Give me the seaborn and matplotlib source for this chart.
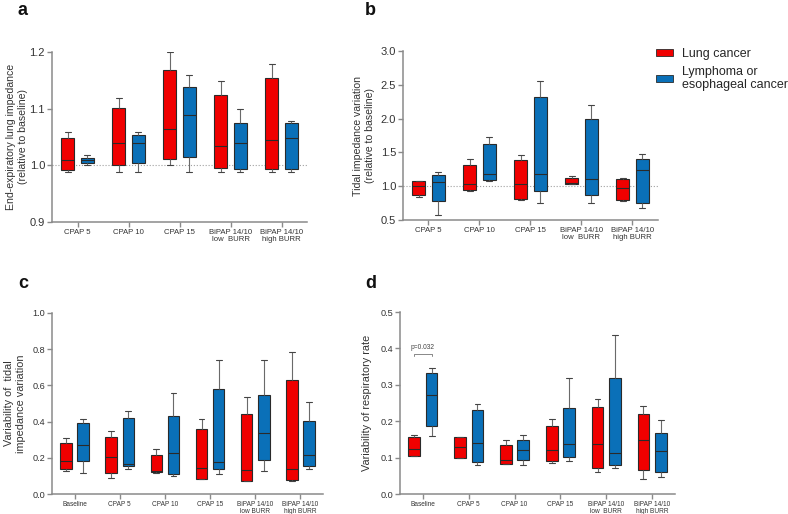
import numpy as np
import pandas as pd
import matplotlib
matplotlib.use("Agg")
import matplotlib.pyplot as plt
from matplotlib.patches import Patch
import seaborn as sns

# ---------------- data (min, q1, median, q3, max) ----------------
groups = ["Lung cancer", "Lymphoma or\nesophageal cancer"]
colors = ["#f00000", "#0a70b8"]

cond_ab = ["CPAP 5", "CPAP 10", "CPAP 15", "BiPAP 14/10\nlow  BURR", "BiPAP 14/10\nhigh BURR"]
cond_c = ["Baseline", "CPAP 5", "CPAP 10", "CPAP 15", "BiPAP 14/10\nlow BURR", "BiPAP 14/10\nhigh BURR"]
cond_d = ["Baseline", "CPAP 5", "CPAP 10", "CPAP 15", "BiPAP 14/10\nlow  BURR", "BiPAP 14/10\nhigh BURR"]

a_lung = [[0.989, 0.992, 1.010, 1.049, 1.059],
          [0.989, 1.000, 1.039, 1.102, 1.119],
          [1.000, 1.012, 1.064, 1.169, 1.200],
          [0.989, 0.996, 1.035, 1.124, 1.149],
          [0.989, 0.994, 1.044, 1.154, 1.179]]
a_lymph = [[1.000, 1.005, 1.010, 1.0135, 1.019],
           [0.989, 1.005, 1.039, 1.054, 1.059],
           [0.989, 1.014, 1.089, 1.139, 1.159],
           [0.989, 0.994, 1.039, 1.074, 1.100],
           [0.989, 0.994, 1.049, 1.074, 1.078]]

b_lung = [[0.842, 0.872, 1.000, 1.070, 1.074],
          [0.936, 0.951, 1.034, 1.320, 1.409],
          [0.793, 0.808, 1.034, 1.389, 1.463],
          [1.034, 1.036, 1.044, 1.128, 1.148],
          [0.788, 0.798, 0.966, 1.108, 1.123]]
b_lymph = [[0.576, 0.778, 1.069, 1.167, 1.207],
           [1.084, 1.086, 1.182, 1.631, 1.724],
           [0.754, 0.926, 1.182, 2.320, 2.561],
           [0.754, 0.867, 1.103, 1.995, 2.200],
           [0.680, 0.754, 1.241, 1.409, 1.478]]

c_lung = [[0.129, 0.137, 0.185, 0.281, 0.309],
          [0.089, 0.116, 0.207, 0.314, 0.348],
          [0.116, 0.120, 0.126, 0.216, 0.248],
          [0.081, 0.083, 0.144, 0.359, 0.416],
          [0.070, 0.072, 0.135, 0.444, 0.538],
          [0.070, 0.078, 0.137, 0.632, 0.787]]
c_lymph = [[0.118, 0.183, 0.268, 0.394, 0.416],
           [0.139, 0.152, 0.166, 0.421, 0.458],
           [0.100, 0.113, 0.229, 0.433, 0.558],
           [0.109, 0.137, 0.179, 0.582, 0.738],
           [0.129, 0.189, 0.338, 0.549, 0.738],
           [0.139, 0.155, 0.216, 0.403, 0.506]]

d_lung = [[0.104, 0.105, 0.124, 0.156, 0.163],
          [0.099, 0.100, 0.128, 0.156, 0.157],
          [0.082, 0.083, 0.093, 0.134, 0.147],
          [0.084, 0.091, 0.121, 0.186, 0.205],
          [0.060, 0.071, 0.137, 0.240, 0.262],
          [0.042, 0.066, 0.147, 0.220, 0.241]]
d_lymph = [[0.160, 0.187, 0.271, 0.332, 0.345],
           [0.081, 0.087, 0.140, 0.231, 0.248],
           [0.081, 0.093, 0.121, 0.147, 0.161],
           [0.091, 0.102, 0.138, 0.237, 0.318],
           [0.071, 0.081, 0.114, 0.320, 0.437],
           [0.048, 0.060, 0.118, 0.167, 0.202]]

p_text = "p=0.032"
p_y = 0.384

# ---------------- style ----------------
sns.set_theme(style="ticks")
plt.rcParams["font.family"] = ["Liberation Sans", "DejaVu Sans"]

AX_COL = "#8a8a8a"
EDGE = "#2a2a2a"
WHISK = "#6a6a6a"

fig = plt.figure(figsize=(7.88, 5.14), dpi=100)
W, H = 788, 514


def px_axes(l, t, r, b):
    return fig.add_axes([l / W, 1 - b / H, (r - l) / W, (b - t) / H])


def make_df(conds, lung, lymph):
    rows = []
    for ci, c in enumerate(conds):
        for g, stats in zip(groups, (lung, lymph)):
            for v in stats[ci]:
                rows.append({"cond": c, "group": g, "val": v})
    return pd.DataFrame(rows)


def draw(ax, conds, lung, lymph, ylim, yticks, ylabel, labx, ytick_fs, xtick_fs, ylab_fs):
    df = make_df(conds, lung, lymph)
    sns.boxplot(data=df, x="cond", y="val", hue="group", order=conds, hue_order=groups,
                palette=colors, whis=(0, 100), width=0.76, gap=0.33, fliersize=0,
                linecolor=EDGE, linewidth=0.8, legend=False, ax=ax, saturation=1,
                whiskerprops={"color": WHISK, "linewidth": 0.8},
                capprops={"color": "#444444", "linewidth": 0.8},
                medianprops={"color": EDGE, "linewidth": 0.8})
    ax.set_ylim(*ylim)
    ax.set_yticks(yticks)
    ax.set_yticklabels([f"{t:.1f}" for t in yticks], fontsize=ytick_fs, color="#333333")
    ax.set_xticks(range(len(conds)))
    ax.set_xticklabels(conds, fontsize=xtick_fs, color="#333333", linespacing=1.1)
    ax.set_xlim(-0.5, len(conds) - 0.5)
    ax.set_xlabel("")
    ax.set_ylabel(ylabel, fontsize=ylab_fs, color="#333333", linespacing=1.2)
    ax.yaxis.set_label_coords(labx, 0.5)
    for s in ("top", "right"):
        ax.spines[s].set_visible(False)
    for s in ("left", "bottom"):
        ax.spines[s].set_color(AX_COL)
        ax.spines[s].set_linewidth(1.1)
    ax.tick_params(axis="both", colors=AX_COL, length=3.5, width=1.0, pad=1.5,
                   labelcolor="#333333")


ax_a = px_axes(52, 52, 307, 222)
draw(ax_a, cond_ab, a_lung, a_lymph, (0.9, 1.2), [0.9, 1.0, 1.1, 1.2],
     "End-expiratory lung impedance\n(relative to baseline)", -0.094, 8, 5.6, 7.6)
ax_a.axhline(1.0, color="#a0a0a0", ls=":", lw=0.8, zorder=0)

ax_b = px_axes(403, 51, 658, 220)
draw(ax_b, cond_ab, b_lung, b_lymph, (0.5, 3.0), [0.5, 1.0, 1.5, 2.0, 2.5, 3.0],
     "Tidal impedance variation\n(relative to baseline)", -0.110, 8, 5.6, 7.6)
ax_b.axhline(1.0, color="#a0a0a0", ls=":", lw=0.8, zorder=0)

ax_c = px_axes(52, 313, 323, 494)
draw(ax_c, cond_c, c_lung, c_lymph, (0.0, 1.0), [0.0, 0.2, 0.4, 0.6, 0.8, 1.0],
     "Variability of  tidal\nimpedance variation", -0.097, 6.6, 4.7, 7.8)

ax_d = px_axes(400, 312, 675, 494)
draw(ax_d, cond_d, d_lung, d_lymph, (0.0, 0.5), [0.0, 0.1, 0.2, 0.3, 0.4, 0.5],
     "Variability of respiratory rate", -0.102, 6.6, 4.7, 7.8)

# significance bracket
bx0, bx1 = -0.19, 0.19
ax_d.plot([bx0, bx0, bx1, bx1], [p_y - 0.004, p_y, p_y, p_y - 0.004], color="#888888", lw=0.7)
ax_d.text(0, p_y + 0.01, p_text, ha="center", va="bottom", fontsize=4.8, color="#444444")

# panel letters
for letter, x, y in (("a", 18, 15), ("b", 365, 15), ("c", 18, 288), ("d", 365, 288)):
    fig.text(x / W, 1 - y / H, letter, fontsize=13, fontweight="bold", ha="left",
             va="baseline", color="#111111")

# legend
handles = [Patch(facecolor=c, edgecolor=EDGE, linewidth=0.6) for c in colors]
fig.legend(handles, groups, loc="upper left", bbox_to_anchor=(651 / W, 1 - 43 / H),
           frameon=False, fontsize=9, handlelength=1.35, handleheight=0.55,
           handletextpad=0.72, labelspacing=0.45, borderaxespad=0)

fig.savefig("out.png", dpi=100)
